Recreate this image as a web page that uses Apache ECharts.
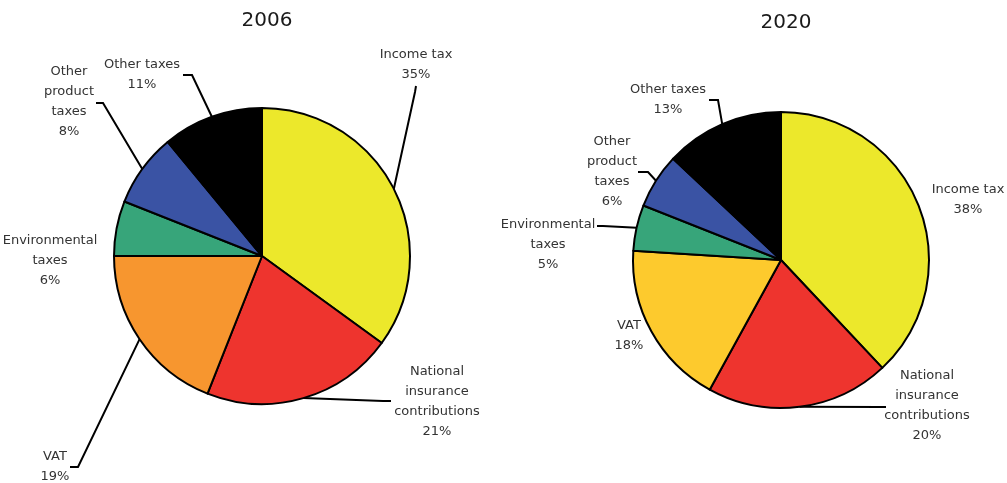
<!DOCTYPE html>
<html>
<head>
<meta charset="utf-8">
<script src="https://cdn.jsdelivr.net/npm/echarts@6/dist/echarts.min.js"></script>
<style>
  html, body { margin: 0; padding: 0; background: #fff; }
  #chart { width: 1007px; height: 483px; }
</style>
</head>
<body>
<div id="chart"></div>
<script>
// tax categories, same order in both years
const categories = ['Income tax', 'National\ninsurance\ncontributions', 'VAT',
  'Environmental\ntaxes', 'Other\nproduct\ntaxes', 'Other taxes'];
const values2006 = [35, 21, 19, 6, 8, 11];
const values2020 = [38, 20, 18, 5, 6, 13];
const years = ['2006', '2020'];

const colors2006 = ['#ece82b', '#ee342e', '#f7962f', '#37a57a', '#3a53a4', '#000000'];
const colors2020 = ['#ece82b', '#ee342e', '#fdca2d', '#37a57a', '#3a53a4', '#000000'];

// label centres and leader line bends (null = no leader line)
const labelPos = [
  [[416, 65], [437, 402], [55, 467], [50, 261], [69, 102], [142, 75]],
  [[968, 200], [927, 406], [629, 336], [548, 245], [612, 172], [668, 100]]
];
const leaders = [
  [[[415, 92], [416, 86]], [[383, 401], [391, 401]], [[78, 467], [70, 467]], null,
   [[103, 103], [96, 103]], [[192, 75], [183, 75]]],
  [null, [[880, 407], [886, 407]], null, [[603, 226], [597, 226]],
   [[648, 172], [638, 172]], [[718, 100], [709, 100]]]
];
const centers = [[262, 256], [781, 260]];

const font = 'DejaVu Sans';
const chart = echarts.init(document.getElementById('chart'));

function makeSeries(idx, values, colors) {
  return {
    type: 'pie',
    center: centers[idx],
    radius: 148,
    startAngle: 90,
    clockwise: true,
    avoidLabelOverlap: false,
    animation: false,
    silent: true,
    itemStyle: { borderColor: '#000', borderWidth: 2 },
    label: {
      show: true,
      position: 'outside',
      formatter: '{b}\n{c}%',
      fontFamily: font,
      fontSize: 13,
      lineHeight: 20,
      color: '#333',
      align: 'center'
    },
    labelLine: { show: true, length: 10, length2: 10, lineStyle: { color: '#000', width: 2 } },
    labelLayout: function (p) {
      const i = p.dataIndex;
      const pos = labelPos[idx][i];
      const out = { x: pos[0], y: pos[1], align: 'center', verticalAlign: 'middle' };
      const lead = leaders[idx][i];
      if (lead && p.labelLinePoints) {
        out.labelLinePoints = [p.labelLinePoints[0], lead[0], lead[1]];
      }
      return out;
    },
    data: categories.map((name, i) => ({
      name: name,
      value: values[i],
      itemStyle: { color: colors[i] },
      labelLine: { show: leaders[idx][i] !== null }
    }))
  };
}

chart.setOption({
  backgroundColor: '#fff',
  title: years.map((y, i) => ({
    text: y,
    left: centers[i][0],
    top: i === 0 ? 6 : 8,
    textAlign: 'center',
    textStyle: { fontFamily: font, fontSize: 20, fontWeight: 'normal', color: '#1a1a1a' }
  })),
  series: [
    makeSeries(0, values2006, colors2006),
    makeSeries(1, values2020, colors2020)
  ]
});
</script>
</body>
</html>
